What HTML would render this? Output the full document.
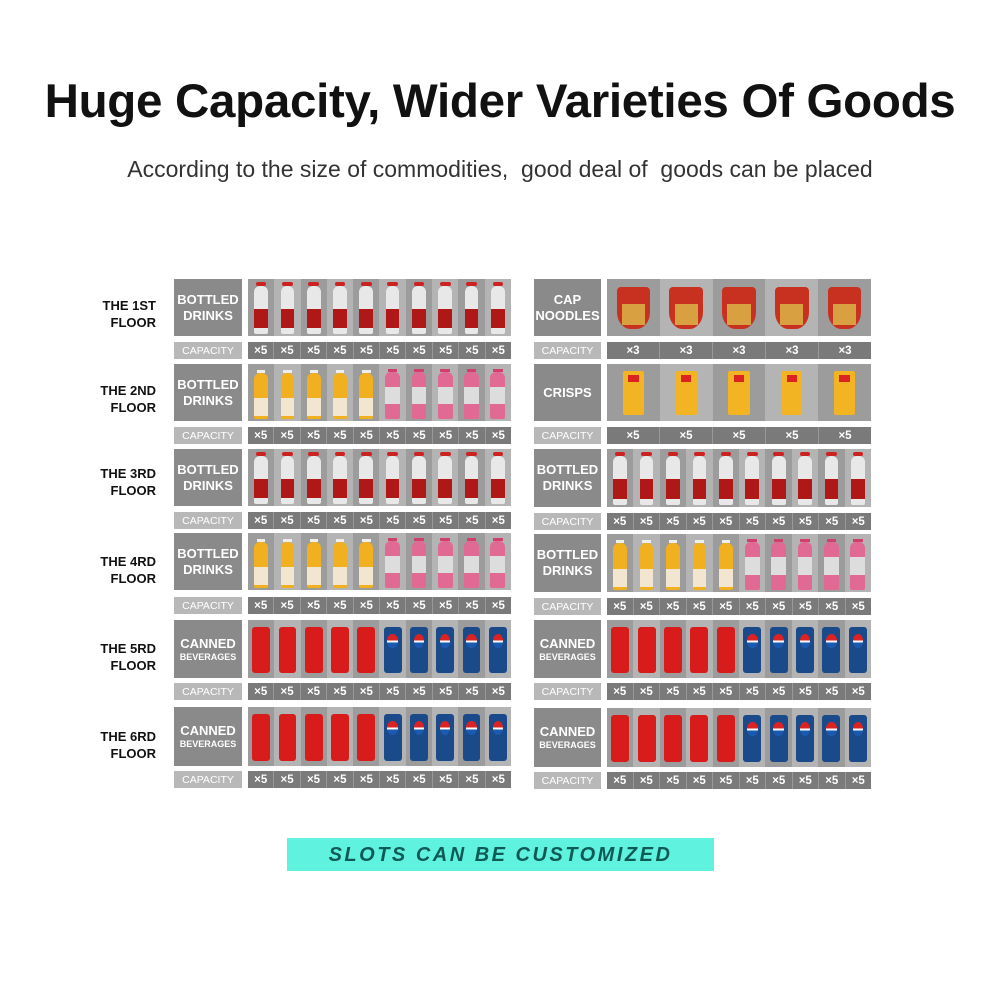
<!DOCTYPE html>
<html><head><meta charset="utf-8"><style>
*{margin:0;padding:0;box-sizing:border-box}
body{width:1000px;height:1000px;background:#fff;position:relative;font-family:"Liberation Sans",sans-serif;overflow:hidden}
.t{position:absolute;left:0;width:1000px;text-align:center}
.fl{position:absolute;width:100px;left:56px;text-align:right;font-weight:bold;font-size:13px;line-height:17px;color:#111}
.lb{position:absolute;background:#8a8a8a;color:#fff;font-weight:bold;font-size:13px;line-height:16px;display:flex;flex-direction:column;align-items:center;justify-content:center;text-align:center}
.lb small{font-size:9px;line-height:11px}
.pa{position:absolute;display:flex}
.pa div{flex:1;position:relative}
.cl{position:absolute;background:#b8b8b8;color:#fff;font-size:10.5px;display:flex;align-items:center;justify-content:center;height:17px}
.cv{position:absolute;display:flex;height:17px;background:#7a7a7a}
.cv span{flex:1;color:#fff;font-weight:bold;font-size:11.5px;text-align:center;line-height:19px;border-left:1px solid #999}
.cv span:first-child{border-left:none}
</style></head><body>
<div class="t" style="top:74px;font-size:47.5px;font-weight:bold;color:#111;letter-spacing:-0.3px">Huge Capacity, Wider Varieties Of Goods</div>
<div class="t" style="top:156px;font-size:23px;color:#333">According to the size of commodities,&nbsp; good deal of&nbsp; goods can be placed</div>

<div class="fl" style="top:297px">THE 1ST<br>FLOOR</div>
<div class="fl" style="top:382px">THE 2ND<br>FLOOR</div>
<div class="fl" style="top:465px">THE 3RD<br>FLOOR</div>
<div class="fl" style="top:553px">THE 4RD<br>FLOOR</div>
<div class="fl" style="top:640px">THE 5RD<br>FLOOR</div>
<div class="fl" style="top:728px">THE 6RD<br>FLOOR</div>

<div id="g"></div>

<div class="cl" style="left:174px;width:68px;top:342px">CAPACITY</div><div class="cv" style="left:248px;width:263px;top:342px"><span>×5</span><span>×5</span><span>×5</span><span>×5</span><span>×5</span><span>×5</span><span>×5</span><span>×5</span><span>×5</span><span>×5</span></div>
<div class="cl" style="left:174px;width:68px;top:427px">CAPACITY</div><div class="cv" style="left:248px;width:263px;top:427px"><span>×5</span><span>×5</span><span>×5</span><span>×5</span><span>×5</span><span>×5</span><span>×5</span><span>×5</span><span>×5</span><span>×5</span></div>
<div class="cl" style="left:174px;width:68px;top:512px">CAPACITY</div><div class="cv" style="left:248px;width:263px;top:512px"><span>×5</span><span>×5</span><span>×5</span><span>×5</span><span>×5</span><span>×5</span><span>×5</span><span>×5</span><span>×5</span><span>×5</span></div>
<div class="cl" style="left:174px;width:68px;top:597px">CAPACITY</div><div class="cv" style="left:248px;width:263px;top:597px"><span>×5</span><span>×5</span><span>×5</span><span>×5</span><span>×5</span><span>×5</span><span>×5</span><span>×5</span><span>×5</span><span>×5</span></div>
<div class="cl" style="left:174px;width:68px;top:683px">CAPACITY</div><div class="cv" style="left:248px;width:263px;top:683px"><span>×5</span><span>×5</span><span>×5</span><span>×5</span><span>×5</span><span>×5</span><span>×5</span><span>×5</span><span>×5</span><span>×5</span></div>
<div class="cl" style="left:174px;width:68px;top:771px">CAPACITY</div><div class="cv" style="left:248px;width:263px;top:771px"><span>×5</span><span>×5</span><span>×5</span><span>×5</span><span>×5</span><span>×5</span><span>×5</span><span>×5</span><span>×5</span><span>×5</span></div>

<div class="cl" style="left:534px;width:67px;top:342px">CAPACITY</div><div class="cv" style="left:607px;width:264px;top:342px"><span>×3</span><span>×3</span><span>×3</span><span>×3</span><span>×3</span></div>
<div class="cl" style="left:534px;width:67px;top:427px">CAPACITY</div><div class="cv" style="left:607px;width:264px;top:427px"><span>×5</span><span>×5</span><span>×5</span><span>×5</span><span>×5</span></div>
<div class="cl" style="left:534px;width:67px;top:513px">CAPACITY</div><div class="cv" style="left:607px;width:264px;top:513px"><span>×5</span><span>×5</span><span>×5</span><span>×5</span><span>×5</span><span>×5</span><span>×5</span><span>×5</span><span>×5</span><span>×5</span></div>
<div class="cl" style="left:534px;width:67px;top:598px">CAPACITY</div><div class="cv" style="left:607px;width:264px;top:598px"><span>×5</span><span>×5</span><span>×5</span><span>×5</span><span>×5</span><span>×5</span><span>×5</span><span>×5</span><span>×5</span><span>×5</span></div>
<div class="cl" style="left:534px;width:67px;top:683px">CAPACITY</div><div class="cv" style="left:607px;width:264px;top:683px"><span>×5</span><span>×5</span><span>×5</span><span>×5</span><span>×5</span><span>×5</span><span>×5</span><span>×5</span><span>×5</span><span>×5</span></div>
<div class="cl" style="left:534px;width:67px;top:772px">CAPACITY</div><div class="cv" style="left:607px;width:264px;top:772px"><span>×5</span><span>×5</span><span>×5</span><span>×5</span><span>×5</span><span>×5</span><span>×5</span><span>×5</span><span>×5</span><span>×5</span></div>

<div class="lb" style="left:174px;top:279px;width:68px;height:57px">BOTTLED<br>DRINKS</div>
<div class="lb" style="left:174px;top:364px;width:68px;height:57px">BOTTLED<br>DRINKS</div>
<div class="lb" style="left:174px;top:449px;width:68px;height:57px">BOTTLED<br>DRINKS</div>
<div class="lb" style="left:174px;top:533px;width:68px;height:57px">BOTTLED<br>DRINKS</div>
<div class="lb" style="left:174px;top:620px;width:68px;height:58px">CANNED<small>BEVERAGES</small></div>
<div class="lb" style="left:174px;top:707px;width:68px;height:59px">CANNED<small>BEVERAGES</small></div>
<div class="lb" style="left:534px;top:279px;width:67px;height:57px">CAP<br>NOODLES</div>
<div class="lb" style="left:534px;top:364px;width:67px;height:57px">CRISPS</div>
<div class="lb" style="left:534px;top:449px;width:67px;height:58px">BOTTLED<br>DRINKS</div>
<div class="lb" style="left:534px;top:534px;width:67px;height:58px">BOTTLED<br>DRINKS</div>
<div class="lb" style="left:534px;top:620px;width:67px;height:58px">CANNED<small>BEVERAGES</small></div>
<div class="lb" style="left:534px;top:708px;width:67px;height:59px">CANNED<small>BEVERAGES</small></div>

<div style="position:absolute;left:287px;top:838px;width:427px;height:33px;background:#5ef2df;color:#0f5a55;font-weight:bold;font-style:italic;font-size:20px;letter-spacing:2.5px;text-align:center;line-height:34px">SLOTS CAN BE CUSTOMIZED</div>

<script>
function item(t){
 if(t=='w')return '<div style="position:absolute;left:30%;right:30%;top:6%;height:6%;background:#c22;border-radius:2px"></div><div style="position:absolute;left:24%;right:24%;top:12%;bottom:4%;background:#e8e8e8;border-radius:6px 6px 2px 2px"></div><div style="position:absolute;left:24%;right:24%;top:52%;bottom:14%;background:#b01818"></div>';
 if(t=='y')return '<div style="position:absolute;left:34%;right:34%;top:10%;height:6%;background:#eee"></div><div style="position:absolute;left:24%;right:24%;top:16%;bottom:4%;background:#f0b020;border-radius:6px 6px 2px 2px"></div><div style="position:absolute;left:24%;right:24%;top:60%;bottom:8%;background:#f3e6d0"></div>';
 if(t=='p')return '<div style="position:absolute;left:32%;right:32%;top:8%;height:6%;background:#d0406a"></div><div style="position:absolute;left:22%;right:22%;top:14%;bottom:4%;background:#e06a93;border-radius:6px 6px 2px 2px"></div><div style="position:absolute;left:22%;right:22%;top:40%;bottom:30%;background:#ddd"></div>';
 if(t=='c')return '<div style="position:absolute;left:16%;right:16%;top:12%;bottom:8%;background:#d81c1c;border-radius:3px"></div>';
 if(t=='b')return '<div style="position:absolute;left:16%;right:16%;top:12%;bottom:8%;background:#1a4a8a;border-radius:3px"></div><div style="position:absolute;left:30%;width:40%;top:24%;height:24%;border-radius:50%;background:linear-gradient(#d22 45%,#fff 45%,#fff 60%,#1a5ab0 60%)"></div>';
 if(t=='n')return '<div style="position:absolute;left:18%;right:18%;top:14%;bottom:12%;background:#c83020;border-radius:4px 4px 40% 40%"></div><div style="position:absolute;left:28%;right:28%;top:44%;bottom:20%;background:#d8a040"></div>';
 if(t=='k')return '<div style="position:absolute;left:30%;right:30%;top:12%;bottom:10%;background:#f2b422;border-radius:2px"></div><div style="position:absolute;left:40%;right:40%;top:20%;height:12%;background:#d22"></div>';
}
function panel(x,y,w,h,list){
 var s='<div class="pa" style="left:'+x+'px;top:'+y+'px;width:'+w+'px;height:'+h+'px">';
 for(var i=0;i<list.length;i++)s+='<div style="background:'+(i%2?'#b4b4b4':'#9c9c9c')+'">'+item(list[i])+'</div>';
 return s+'</div>';
}
var W='wwwwwwwwww'.split(''),J='yyyyyppppp'.split(''),C='cccccbbbbb'.split('');
var h='';
h+=panel(248,279,263,57,W);h+=panel(248,364,263,57,J);h+=panel(248,449,263,57,W);h+=panel(248,533,263,57,J);h+=panel(248,620,263,58,C);h+=panel(248,707,263,59,C);
h+=panel(607,279,264,57,'nnnnn'.split(''));h+=panel(607,364,264,57,'kkkkk'.split(''));h+=panel(607,449,264,58,W);h+=panel(607,534,264,58,J);h+=panel(607,620,264,58,C);h+=panel(607,708,264,59,C);
document.getElementById('g').innerHTML=h;
</script>
</body></html>
